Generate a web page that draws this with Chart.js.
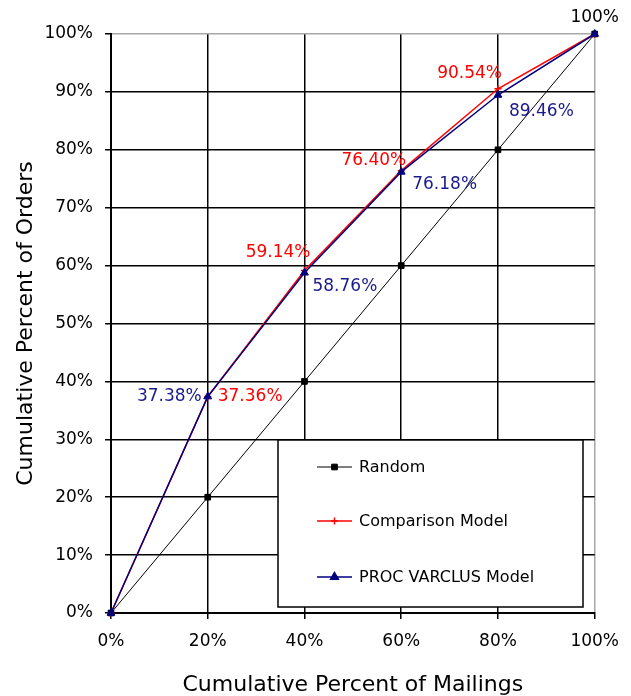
<!DOCTYPE html>
<html><head><meta charset="utf-8">
<script src="https://cdn.jsdelivr.net/npm/chart.js@4/dist/chart.umd.min.js"></script>
<style>html,body{margin:0;padding:0;background:#fff;}canvas{display:block;}</style>
</head><body>
<canvas id="c" width="631" height="696"></canvas>
<script>
// ---- data ----
const mailingPct = [0, 20, 40, 60, 80, 100];
const randomOrders = [0, 20, 40, 60, 80, 100];
const comparisonOrders = [0, 37.36, 59.14, 76.40, 90.54, 100];
const varclusOrders = [0, 37.38, 58.76, 76.18, 89.46, 100];
const seriesNames = ['Random', 'Comparison Model', 'PROC VARCLUS Model'];
const xTitle = 'Cumulative Percent of Mailings';
const yTitle = 'Cumulative Percent of Orders';

// which points carry a value label (dataset index, point index)
const labelledPoints = [
  [0, 5], [1, 1], [2, 1], [1, 2], [2, 2], [1, 3], [2, 3], [1, 4], [2, 4]
];
// label placement (styling only)
const labelPlacement = [
  {dx: 0, dy: -16, align: 'center'},
  {dx: 10, dy: 0, align: 'left'},
  {dx: -6, dy: 0, align: 'right'},
  {dx: 6, dy: -18, align: 'right'},
  {dx: 8, dy: 14, align: 'left'},
  {dx: 5, dy: -10, align: 'right'},
  {dx: 11, dy: 13, align: 'left'},
  {dx: 4, dy: -15, align: 'right'},
  {dx: 11, dy: 17, align: 'left'}
];

const FONT = "'DejaVu Sans', sans-serif";
Chart.defaults.font.family = FONT;
Chart.defaults.color = '#000';

const toXY = (ys) => ys.map((y, i) => ({x: mailingPct[i], y: y}));
const fmt = (v) => (v === 100 || v === 0) ? v + '%' : v.toFixed(2) + '%';

const valueLabels = {
  id: 'valueLabels',
  afterDatasetsDraw(chart) {
    const ctx = chart.ctx;
    ctx.save();
    ctx.font = '17px ' + FONT;
    ctx.textBaseline = 'middle';
    labelledPoints.forEach(([ds, i], k) => {
      const p = labelPlacement[k];
      const el = chart.getDatasetMeta(ds).data[i];
      const dset = chart.data.datasets[ds];
      ctx.fillStyle = dset.labelColor;
      ctx.textAlign = p.align;
      ctx.fillText(fmt(dset.data[i].y), el.x + p.dx, el.y + p.dy);
    });
    ctx.restore();
  }
};

const boxLegend = {
  id: 'boxLegend',
  afterDraw(chart, args, opts) {
    const ctx = chart.ctx;
    const b = opts.box;
    ctx.save();
    ctx.fillStyle = '#fff';
    ctx.fillRect(b.left, b.top, b.right - b.left, b.bottom - b.top);
    ctx.strokeStyle = '#000';
    ctx.lineWidth = 1.5;
    ctx.strokeRect(b.left, b.top, b.right - b.left, b.bottom - b.top);
    ctx.font = '16px ' + FONT;
    ctx.textBaseline = 'middle';
    ctx.textAlign = 'left';
    chart.data.datasets.forEach((d, k) => {
      const y = opts.rows[k];
      ctx.strokeStyle = d.borderColor;
      ctx.lineWidth = d.borderWidth;
      ctx.beginPath();
      ctx.moveTo(opts.lineX0, y);
      ctx.lineTo(opts.lineX1, y);
      ctx.stroke();
      ctx.fillStyle = d.pointBackgroundColor;
      ctx.strokeStyle = d.pointBorderColor;
      Chart.helpers.drawPoint(ctx, {pointStyle: d.pointStyle, radius: d.pointRadius, rotation: 0, borderWidth: d.pointBorderWidth}, (opts.lineX0 + opts.lineX1) / 2, y);
      ctx.fillStyle = '#000';
      ctx.fillText(d.label, opts.textX, y + 1);
    });
    ctx.restore();
  }
};

new Chart(document.getElementById('c'), {
  type: 'line',
  data: {
    datasets: [
      {label: seriesNames[0], data: toXY(randomOrders), borderColor: '#000', borderWidth: 1,
       pointStyle: 'rect', pointRadius: 4, pointBackgroundColor: '#000', pointBorderColor: '#000', pointBorderWidth: 1,
       labelColor: '#000', order: 3, clip: false},
      {label: seriesNames[1], data: toXY(comparisonOrders), borderColor: '#ff0000', borderWidth: 1.5,
       pointStyle: 'cross', pointRadius: 3.5, pointBackgroundColor: '#ff0000', pointBorderColor: '#ff0000', pointBorderWidth: 1.5,
       labelColor: '#ff0000', order: 2, clip: false},
      {label: seriesNames[2], data: toXY(varclusOrders), borderColor: '#000080', borderWidth: 1.5,
       pointStyle: 'triangle', pointRadius: 4.5, pointBackgroundColor: '#000080', pointBorderColor: '#000080', pointBorderWidth: 1,
       labelColor: '#1a1a8c', order: 1, clip: false}
    ]
  },
  options: {
    responsive: false,
    animation: false,
    devicePixelRatio: 1,
    layout: {padding: {left: 0, right: 35, top: 34, bottom: 0}},
    plugins: {
      legend: {display: false},
      tooltip: {enabled: false},
      boxLegend: {
        box: {left: 278, top: 440, right: 583, bottom: 607},
        rows: [467, 521, 577],
        lineX0: 317, lineX1: 352, textX: 359
      }
    },
    scales: {
      x: {
        type: 'linear', min: 0, max: 100,
        ticks: {stepSize: 20, callback: v => v + '%', font: {size: 17}, padding: 12, color: '#000', maxRotation: 0},
        grid: {color: c => c.tick && c.tick.value === 100 ? '#a8a8a8' : '#000', lineWidth: 1.5, tickLength: 6, tickColor: '#000', tickWidth: 1.5},
        border: {color: '#000', width: 2},
        title: {display: true, text: xTitle, font: {size: 22, lineHeight: 1}, padding: {top: 0, bottom: 0}, color: '#000'},
        afterFit: s => { s.height = 83; }
      },
      y: {
        min: 0, max: 100,
        ticks: {stepSize: 10, callback: v => v + '%', font: {size: 17}, padding: 12, color: '#000'},
        grid: {color: c => c.tick && c.tick.value === 100 ? '#a8a8a8' : '#000', lineWidth: 1.5, tickLength: 6, tickColor: '#000', tickWidth: 1.5},
        border: {color: '#000', width: 2},
        title: {display: true, text: yTitle, font: {size: 22, lineHeight: 1}, padding: {top: 15, bottom: 0}, color: '#000'},
        afterFit: s => { s.width = 111; }
      }
    }
  },
  plugins: [valueLabels, boxLegend]
});
</script>
</body></html>
